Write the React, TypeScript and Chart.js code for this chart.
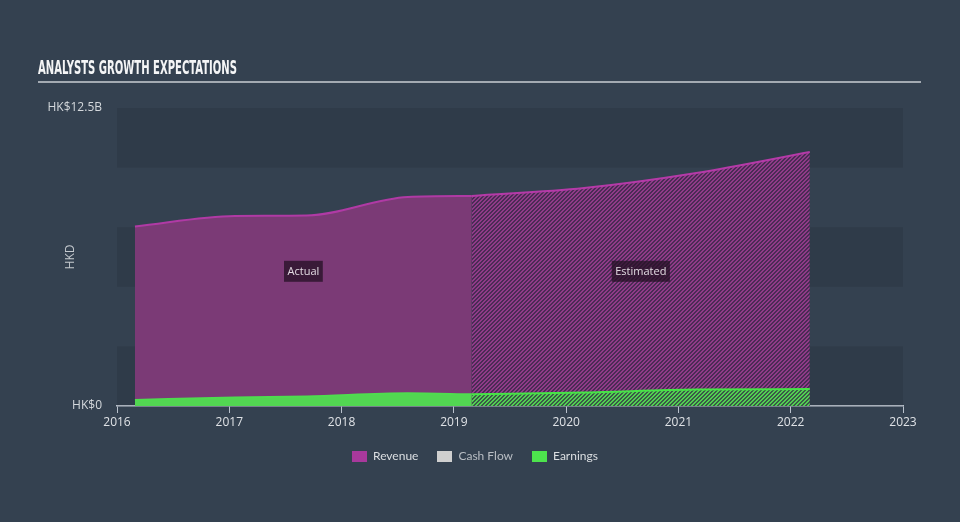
import React, { useEffect, useRef } from 'react';
import { Chart, registerables } from 'chart.js';

Chart.register(...registerables);

// ---- data (HK$ billions) ----
const TITLE = 'ANALYSTS GROWTH EXPECTATIONS';
const actualYears = [2016.16, 2017.05, 2017.69, 2018.59, 2019.16];
const actualRevenue = [7.53, 7.97, 7.99, 8.77, 8.81];
const actualEarnings = [0.25, 0.36, 0.4, 0.53, 0.49];
const estimateYears = [2019.16, 2020.16, 2021.16, 2022.17];
const estimateRevenue = [8.81, 9.14, 9.77, 10.65];
const estimateEarnings = [0.49, 0.57, 0.69, 0.71];
const xTickYears = [2016, 2017, 2018, 2019, 2020, 2021, 2022, 2023];
const yTickValues = [0, 12.5];
const yTickLabels = ['HK$0', 'HK$12.5B'];
const legendItems = [
  { label: 'Revenue', color: '#a8399c', text: '#dcdfe2' },
  { label: 'Cash Flow', color: '#cfcfcf', text: '#b9bec4' },
  { label: 'Earnings', color: '#4de34d', text: '#dcdfe2' },
];
const regionLabels = ['Actual', 'Estimated'];

const FONT = "'Open Sans', 'DejaVu Sans', sans-serif";
const LEGEND_FONT = "Lato, 'Open Sans', sans-serif";

function makeHatch(stripe: string, bg: string, period = 4, width = 2) {
  const c = document.createElement('canvas');
  c.width = period;
  c.height = period;
  const ctx = c.getContext('2d')!;
  ctx.fillStyle = bg;
  ctx.fillRect(0, 0, period, period);
  ctx.fillStyle = stripe;
  for (let x = 0; x < period; x++)
    for (let y = 0; y < period; y++)
      if ((x + y) % period < width) ctx.fillRect(x, y, 1, 1);
  return ctx.createPattern(c, 'repeat')!;
}

const bandsPlugin = {
  id: 'bands',
  beforeDatasetsDraw(chart: any) {
    const { ctx, chartArea, scales } = chart;
    const y = scales.y;
    ctx.save();
    ctx.fillStyle = 'rgba(0,0,0,0.085)';
    const step = 2.5;
    for (let v = 0; v < 12.5; v += step * 2) {
      const top = y.getPixelForValue(v + step);
      const bottom = y.getPixelForValue(v);
      ctx.fillRect(chartArea.left, top, chartArea.right - chartArea.left, bottom - top);
    }
    ctx.restore();
  },
};

const regionLabelPlugin = {
  id: 'regionLabels',
  afterDatasetsDraw(chart: any) {
    const { ctx, scales } = chart;
    const x = scales.x;
    const y = scales.y;
    const spans = [
      [actualYears[0], actualYears[actualYears.length - 1]],
      [estimateYears[0], estimateYears[estimateYears.length - 1]],
    ];
    ctx.save();
    ctx.font = `11px ${FONT}`;
    ctx.textAlign = 'center';
    ctx.textBaseline = 'middle';
    const cy = y.getPixelForValue(5.65);
    spans.forEach((s, i) => {
      const cx = (x.getPixelForValue(s[0]) + x.getPixelForValue(s[1])) / 2;
      const w = ctx.measureText(regionLabels[i]).width + 7;
      const h = 21;
      ctx.fillStyle = 'rgba(38,18,38,0.78)';
      ctx.fillRect(cx - w / 2, cy - h / 2, w, h);
      ctx.fillStyle = '#e2dbe2';
      ctx.fillText(regionLabels[i], cx, cy + 0.5);
    });
    ctx.restore();
  },
};

export default function App() {
  const canvasRef = useRef<HTMLCanvasElement | null>(null);
  const titleRef = useRef<HTMLSpanElement | null>(null);

  useEffect(() => {
    if (titleRef.current) {
      const w = titleRef.current.getBoundingClientRect().width;
      if (w > 0) titleRef.current.style.transform = `scaleX(${199 / w})`;
    }
    const canvas = canvasRef.current!;
    const revHatch = makeHatch('#8f3b88', '#4a2b55');
    const earnHatch = makeHatch('#52cf52', '#3a5a47');
    const toPts = (xs: number[], ys: number[]) => xs.map((v, i) => ({ x: v, y: ys[i] }));

    const chart = new Chart(canvas, {
      type: 'line',
      data: {
        datasets: [
          {
            label: 'Earnings',
            data: toPts(actualYears, actualEarnings),
            borderColor: '#4fdc4f',
            backgroundColor: '#52d652',
            borderWidth: 2,
            fill: 'origin',
            pointRadius: 0,
            cubicInterpolationMode: 'monotone',
            order: 0,
          },
          {
            label: 'Earnings estimate',
            data: toPts(estimateYears, estimateEarnings),
            borderColor: '#47e447',
            backgroundColor: earnHatch,
            borderWidth: 2,
            fill: 'origin',
            pointRadius: 0,
            cubicInterpolationMode: 'monotone',
            order: 0,
          },
          {
            label: 'Revenue',
            data: toPts(actualYears, actualRevenue),
            borderColor: '#b03aa5',
            backgroundColor: '#7b3a76',
            borderWidth: 2,
            fill: 'origin',
            pointRadius: 0,
            cubicInterpolationMode: 'monotone',
            order: 1,
          },
          {
            label: 'Revenue estimate',
            data: toPts(estimateYears, estimateRevenue),
            borderColor: '#b53aa8',
            backgroundColor: revHatch,
            borderWidth: 2,
            fill: 'origin',
            pointRadius: 0,
            cubicInterpolationMode: 'monotone',
            order: 1,
          },
        ],
      },
      options: {
        animation: false,
        responsive: false,
        maintainAspectRatio: false,
        events: [],
        layout: { padding: { top: 108, left: 0, right: 57, bottom: 76 } },
        plugins: {
          legend: { display: false },
          tooltip: { enabled: false },
          title: { display: false },
        },
        scales: {
          x: {
            type: 'linear',
            min: xTickYears[0],
            max: xTickYears[xTickYears.length - 1],
            afterBuildTicks(scale: any) {
              scale.ticks = xTickYears.map((v) => ({ value: v }));
            },
            afterFit(scale: any) {
              scale.height = 40;
            },
            grid: {
              display: true,
              drawOnChartArea: false,
              drawTicks: true,
              tickLength: 7,
              color: '#b9c1cc',
              lineWidth: 1,
            },
            border: { display: true, color: '#b9c1cc', width: 1.5 },
            ticks: {
              color: '#dfe2e6',
              font: { family: FONT, size: 12 },
              padding: 2,
              maxRotation: 0,
              callback: (v: any) => String(v),
            },
          },
          y: {
            type: 'linear',
            min: 0,
            max: 12.5,
            afterBuildTicks(scale: any) {
              scale.ticks = yTickValues.map((v) => ({ value: v }));
            },
            afterFit(scale: any) {
              scale.width = 117;
            },
            grid: { display: false, drawTicks: false },
            border: { display: false },
            ticks: {
              color: '#d4d8dc',
              font: { family: FONT, size: 12 },
              padding: 15,
              callback: (v: any) => {
                const i = yTickValues.indexOf(Number(v));
                return i >= 0 ? yTickLabels[i] : '';
              },
            },
            title: {
              display: true,
              text: 'HKD',
              color: '#c4c9ce',
              font: { family: FONT, size: 12 },
              padding: { top: 63, bottom: 0 },
            },
          },
        },
      },
      plugins: [bandsPlugin, regionLabelPlugin],
    } as any);
    return () => chart.destroy();
  }, []);

  return (
    <div
      style={{
        position: 'fixed',
        left: 0,
        top: 0,
        width: 960,
        height: 522,
        background: '#344150',
        overflow: 'hidden',
        fontFamily: FONT,
      }}
    >
      <canvas ref={canvasRef} width={960} height={522} style={{ position: 'absolute', left: 0, top: 0, width: 960, height: 522 }} />
      <div style={{ position: 'absolute', left: 38, top: 57, height: 20, whiteSpace: 'nowrap' }}>
        <span
          ref={titleRef}
          style={{
            display: 'inline-block',
            transformOrigin: '0 0',
            fontFamily: "'Liberation Sans Narrow', 'DejaVu Sans Condensed', 'Liberation Sans', sans-serif",
            fontWeight: 'bold',
            fontSize: 19,
            lineHeight: '19px',
            color: '#f4f5f6',
            letterSpacing: 0,
          }}
        >
          {TITLE}
        </span>
      </div>
      <div style={{ position: 'absolute', left: 38, top: 81, width: 883, height: 2, background: '#a3aab2' }} />
      <div style={{ position: 'absolute', left: 352, top: 448, display: 'flex', alignItems: 'center', height: 16, fontFamily: LEGEND_FONT }}>
        {legendItems.map((it, i) => (
          <div key={it.label} style={{ display: 'flex', alignItems: 'center', marginRight: i < legendItems.length - 1 ? 19 : 0 }}>
            <span style={{ display: 'inline-block', width: 15, height: 11, background: it.color, marginRight: 6 }} />
            <span style={{ color: it.text, fontSize: 12, lineHeight: '16px' }}>{it.label}</span>
          </div>
        ))}
      </div>
    </div>
  );
}
